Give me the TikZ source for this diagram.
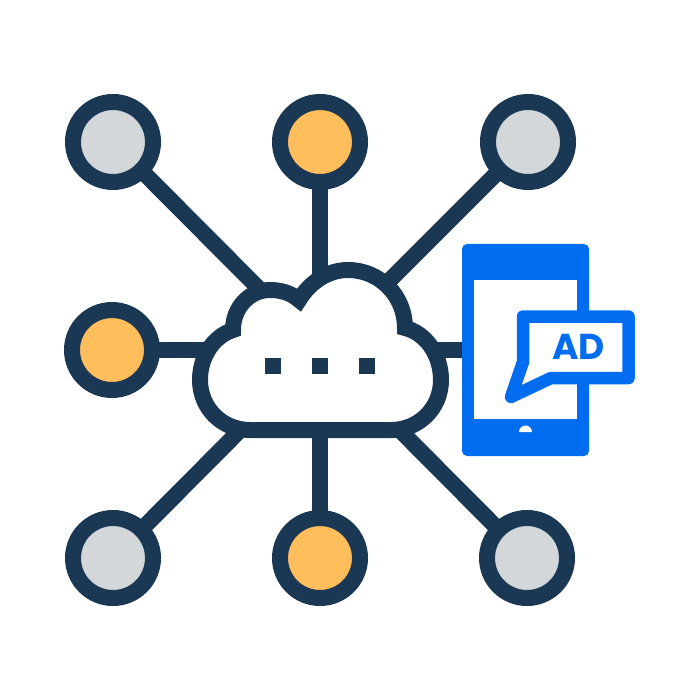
\documentclass[tikz,border=0pt]{standalone}
\usepackage{fontspec}
\newfontfamily\adfont{Poppins}
\definecolor{navy}{HTML}{1A3854}
\definecolor{greyfill}{HTML}{D4D7DA}
\definecolor{orangefill}{HTML}{FFBD5C}
\definecolor{blueink}{HTML}{006DF0}
\tikzset{
  dot/.style={circle,draw=navy,line width=16pt,minimum size=80pt,inner sep=0pt,outer sep=0pt},
  spoke/.style={draw=navy,line width=16pt},
  square/.style={fill=navy,minimum size=16pt,inner sep=0pt,outer sep=0pt},
  blue/.style={fill=blueink,draw=none,inner sep=0pt,outer sep=0pt},
}
\begin{document}
\begin{tikzpicture}[x=1pt,y=-1pt]
\useasboundingbox (0,0) rectangle (700,700);
\fill[white] (0,0) rectangle (700,700);
\coordinate (hub) at (320,350);
\node[dot,fill=greyfill] (c1) at (113,142) {};
\node[dot,fill=orangefill] (c2) at (320,142) {};
\node[dot,fill=greyfill] (c3) at (528,142) {};
\node[dot,fill=orangefill] (c4) at (112,350) {};
\node[dot,fill=greyfill] (c5) at (113,558) {};
\node[dot,fill=orangefill] (c6) at (320,558) {};
\node[dot,fill=greyfill] (c7) at (527,558) {};
\node[blue,rounded corners=5pt,minimum width=127pt,minimum height=212pt] (phone) at (525.5,350) {};
\foreach \n in {c1,c2,c3,c4,c5,c6,c7} \draw[spoke] (hub) -- (\n);
\draw[spoke] (hub) -- (phone.west);
% cloud
\draw[draw=navy,fill=white,line width=16pt,miter limit=10]
  (250,430) .. controls (222,430) and (200,408) .. (200,380)
  .. controls (200,356) and (214,336) .. (233,330)
  .. controls (233,307) and (250,290) .. (270,290)
  .. controls (281,290) and (291,293) .. (299,300)
  .. controls (310,282) and (328,270) .. (348,270)
  .. controls (380,270) and (405,296) .. (405,328)
  .. controls (426,333) and (441,355) .. (441,380)
  .. controls (441,408) and (419,430) .. (391,430)
  -- cycle;
\node[square] (s1) at (273,366) {};
\node[square] (s2) at (320,366) {};
\node[square] (s3) at (367,366) {};
% phone
\node[fill=white,inner sep=0pt,minimum width=103pt,minimum height=139pt] (screen) at (525.5,349.5) {};
\fill[white] (519,432) -- (532,432) arc[start angle=0,end angle=180,radius=6.5pt] -- cycle;
% bubble
\draw[draw=blueink,fill=white,line width=12.5pt,line join=round]
  (523,316.5) -- (628.5,316.5) -- (628.5,378) -- (551,378) -- (511,397) -- (523,362) -- cycle;
\node[text=blueink,inner sep=0pt,font=\adfont\bfseries\fontsize{36}{36}\selectfont] (ad) at (578.5,347) {AD};
\end{tikzpicture}
\end{document}
